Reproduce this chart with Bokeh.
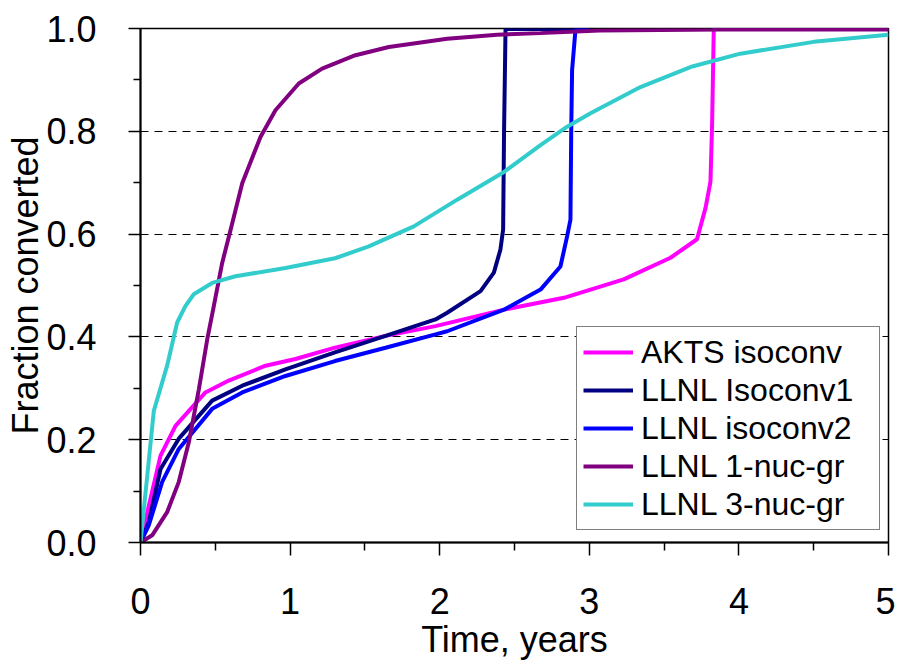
from bokeh.plotting import figure
from bokeh.models import FixedTicker, Range1d, Legend, LegendItem, NumeralTickFormatter
from bokeh.embed import file_html
from bokeh.resources import INLINE

# ---- data ----
x_ticks = [0, 1, 2, 3, 4, 5]
x_minor = [0.5, 1.5, 2.5, 3.5, 4.5]
y_ticks = [0.0, 0.2, 0.4, 0.6, 0.8, 1.0]
y_minor = [0.1, 0.3, 0.5, 0.7, 0.9]
grid_levels = [0.2, 0.4, 0.6, 0.8]

# AKTS isoconv
t_akts = [0, 0.056, 0.134, 0.234, 0.434, 0.59, 0.836, 1.036, 1.30, 1.638, 1.972,
          2.43, 2.83, 3.23, 3.543, 3.72, 3.777, 3.81, 3.821, 3.832, 5.0]
f_akts = [0, 0.072, 0.169, 0.227, 0.292, 0.315, 0.344, 0.357, 0.379, 0.402, 0.421,
          0.453, 0.476, 0.512, 0.554, 0.59, 0.651, 0.702, 0.815, 0.999, 0.999]

# LLNL Isoconv1
t_iso1 = [0, 0.056, 0.134, 0.256, 0.479, 0.68, 0.969, 1.30, 1.638, 1.972, 2.05,
          2.273, 2.362, 2.406, 2.424, 2.43, 2.44, 3.0]
f_iso1 = [0, 0.04, 0.143, 0.202, 0.276, 0.305, 0.337, 0.37, 0.402, 0.434, 0.447,
          0.489, 0.525, 0.57, 0.609, 0.796, 0.999, 0.999]

# LLNL isoconv2
t_iso2 = [0, 0.056, 0.145, 0.256, 0.479, 0.68, 0.969, 1.30, 1.638, 1.972, 2.05,
          2.43, 2.674, 2.807, 2.852, 2.874, 2.879, 2.885, 2.908, 3.0]
f_iso2 = [0, 0.034, 0.118, 0.182, 0.26, 0.292, 0.324, 0.353, 0.379, 0.405, 0.411,
          0.453, 0.492, 0.537, 0.596, 0.628, 0.796, 0.919, 0.999, 0.999]

# LLNL 1-nuc-gr
t_n1 = [0, 0.078, 0.178, 0.256, 0.323, 0.39, 0.446, 0.49, 0.546, 0.602, 0.68,
        0.802, 0.902, 1.058, 1.214, 1.437, 1.66, 2.05, 2.384, 2.674, 3.07, 3.877, 5.0]
f_n1 = [0, 0.014, 0.059, 0.118, 0.195, 0.298, 0.395, 0.46, 0.544, 0.608, 0.699,
        0.789, 0.841, 0.893, 0.922, 0.948, 0.964, 0.980, 0.988, 0.991, 0.996, 0.998, 0.998]

# LLNL 3-nuc-gr
t_n3 = [0, 0.089, 0.178, 0.245, 0.30, 0.356, 0.479, 0.635, 0.969, 1.30, 1.526,
        1.827, 2.117, 2.43, 2.674, 2.852, 3.008, 3.342, 3.676, 4.01, 4.50, 5.0]
f_n3 = [0, 0.256, 0.344, 0.428, 0.46, 0.483, 0.505, 0.518, 0.534, 0.553, 0.576,
        0.615, 0.667, 0.721, 0.773, 0.809, 0.835, 0.886, 0.925, 0.951, 0.974, 0.988]

series = [
    ("AKTS isoconv", t_akts, f_akts, "#FF00FF"),
    ("LLNL Isoconv1", t_iso1, f_iso1, "#000080"),
    ("LLNL isoconv2", t_iso2, f_iso2, "#0000FF"),
    ("LLNL 1-nuc-gr", t_n1, f_n1, "#800080"),
    ("LLNL 3-nuc-gr", t_n3, f_n3, "#33CCCC"),
]

FONT = "Liberation Sans"

p = figure(width=895, height=662, output_backend="svg", toolbar_location=None,
           x_range=Range1d(0, 5), y_range=Range1d(0, 1),
           min_border_left=140, min_border_right=7, min_border_top=28,
           min_border_bottom=118)
p.background_fill_color = "white"
p.border_fill_color = "white"
p.outline_line_color = "black"
p.outline_line_width = 1.5

p.xgrid.visible = False
p.ygrid.ticker = FixedTicker(ticks=grid_levels)
p.ygrid.grid_line_color = "black"
p.ygrid.grid_line_dash = "8 6"
p.ygrid.grid_line_width = 1

p.xaxis.ticker = FixedTicker(ticks=x_ticks, minor_ticks=x_minor)
p.yaxis.ticker = FixedTicker(ticks=y_ticks, minor_ticks=y_minor)
p.xaxis.formatter = NumeralTickFormatter(format="0")
p.yaxis.formatter = NumeralTickFormatter(format="0.0")

for ax in (p.xaxis[0], p.yaxis[0]):
    ax.axis_line_color = "black"
    ax.axis_line_width = 2
    ax.major_tick_line_color = "black"
    ax.major_tick_line_width = 1.5
    ax.minor_tick_line_color = "black"
    ax.minor_tick_line_width = 1.5
    ax.major_tick_in = 0
    ax.minor_tick_in = 0
    ax.major_label_text_font = FONT
    ax.major_label_text_font_size = "36px"
    ax.major_label_text_color = "black"
    ax.axis_label_text_font = FONT
    ax.axis_label_text_font_size = "36px"
    ax.axis_label_text_font_style = "normal"
    ax.axis_label_text_color = "black"

p.xaxis.major_tick_out = 13
p.xaxis.minor_tick_out = 8
p.yaxis.major_tick_out = 12
p.yaxis.minor_tick_out = 7
p.xaxis.major_label_standoff = 32
p.yaxis.major_label_standoff = 32
p.xaxis.axis_label = "Time, years"
p.yaxis.axis_label = "Fraction converted"
p.xaxis.axis_label_standoff = 2
p.yaxis.axis_label_standoff = -3

items = []
for name, t, f, color in series:
    r = p.line(t, f, line_color=color, line_width=4)
    items.append(LegendItem(label=name, renderers=[r]))

legend = Legend(items=items, location=(436, 12))
legend.label_text_font = FONT
legend.label_text_font_size = "32px"
legend.label_text_color = "black"
legend.glyph_width = 50
legend.glyph_height = 38
legend.label_height = 38
legend.label_width = 232
legend.label_standoff = 8
legend.spacing = 0
legend.padding = 6
legend.margin = 0
legend.border_line_color = "black"
legend.border_line_width = 1.5
legend.background_fill_color = "white"
legend.background_fill_alpha = 1
p.add_layout(legend, "center")

open("out.html", "w").write(file_html(p, INLINE))
